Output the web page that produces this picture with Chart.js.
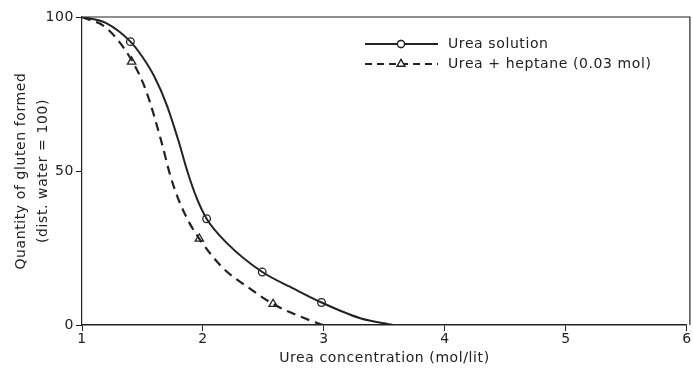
<!DOCTYPE html>
<html>
<head>
<meta charset="utf-8">
<script src="https://cdn.jsdelivr.net/npm/chart.js@4/dist/chart.umd.min.js"></script>
<style>
  html, body { margin: 0; padding: 0; background: #fff; }
  #wrap { position: relative; width: 693px; height: 371px; }
</style>
</head>
<body>
<div id="wrap"><canvas id="glutenChart" width="693" height="371"></canvas></div>
<script>
// curves (x = urea mol/lit, y = gluten, dist. water = 100)
const solutionCurveX = [1, 1.2, 1.4, 1.5, 1.6, 1.7, 1.8, 1.87, 1.95, 2.03, 2.2, 2.49, 2.75, 2.98, 3.3, 3.57];
const solutionCurveY = [100, 98, 92, 87, 80.5, 71.5, 59.5, 50, 41, 34.5, 26.5, 17.2, 11.8, 7.3, 2.2, 0];
const heptaneCurveX = [1, 1.2, 1.41, 1.53, 1.66, 1.73, 1.8, 1.89, 1.97, 2.16, 2.4, 2.58, 2.8, 2.99];
const heptaneCurveY = [100, 96.5, 86, 76, 59, 48.5, 40.5, 33, 28, 18.7, 11.5, 6.8, 2.8, 0];

// measured points (markers)
const solutionX = [1.4, 2.03, 2.49, 2.98];
const solutionY = [92, 34.5, 17.2, 7.3];
const heptaneX = [1.41, 1.97, 2.58];
const heptaneY = [85.5, 28, 6.8];

const seriesNames = ['Urea solution', 'Urea + heptane (0.03 mol)'];
const xTitle = 'Urea concentration (mol/lit)';
const yTitle = ['Quantity of gluten formed', '(dist. water = 100)'];

const ink = '#222';
const fontFamily = '"DejaVu Sans", "Liberation Sans", sans-serif';
const spacing = '0.6px';

const zip = (xs, ys) => xs.map((x, i) => ({ x: x, y: ys[i] }));

// wider lettering like the original drawing
const spacingPlugin = {
    id: 'spacing',
    beforeLayout(chart) { chart.ctx.letterSpacing = spacing; },
    beforeDraw(chart) { chart.ctx.letterSpacing = spacing; }
};

// box + hand-drawn style legend
const framePlugin = {
    id: 'frame',
    afterDraw(chart) {
        const { ctx, chartArea } = chart;
        ctx.save();
        ctx.strokeStyle = ink;
        ctx.lineWidth = 1.2;
        ctx.beginPath();
        ctx.moveTo(chartArea.left, chartArea.top);
        ctx.lineTo(chartArea.right + 3, chartArea.top);
        ctx.lineTo(chartArea.right + 3, chartArea.bottom);
        ctx.stroke();

        // legend
        const rows = [
            { y: 44, dash: [], style: 'circle' },
            { y: 64, dash: [7, 5], style: 'triangle' }
        ];
        ctx.font = '14px ' + fontFamily;
        ctx.letterSpacing = spacing;
        ctx.textBaseline = 'middle';
        rows.forEach((r, i) => {
            ctx.setLineDash(r.dash);
            ctx.lineWidth = 2;
            ctx.beginPath();
            ctx.moveTo(365, r.y);
            ctx.lineTo(438, r.y);
            ctx.stroke();
            ctx.setLineDash([]);
            ctx.lineWidth = 1.3;
            ctx.fillStyle = '#fff';
            Chart.helpers.drawPoint(ctx, { pointStyle: r.style, radius: r.style === 'circle' ? 3.5 : 4.5, borderWidth: 1.3 }, 401, r.y);
            ctx.fill();
            ctx.stroke();
            ctx.fillStyle = ink;
            ctx.fillText(seriesNames[i], 448, r.y);
        });
        ctx.restore();
    }
};

const tickFont = { family: fontFamily, size: 14 };

const ctx = document.getElementById('glutenChart').getContext('2d');
new Chart(ctx, {
    type: 'scatter',
    data: {
        datasets: [
            {
                label: seriesNames[0],
                data: zip(solutionCurveX, solutionCurveY),
                showLine: true,
                borderColor: ink,
                borderWidth: 2,
                pointRadius: 0,
                cubicInterpolationMode: 'monotone'
            },
            {
                label: seriesNames[1],
                data: zip(heptaneCurveX, heptaneCurveY),
                showLine: true,
                borderColor: ink,
                borderWidth: 2.2,
                borderDash: [9, 6],
                pointRadius: 0,
                cubicInterpolationMode: 'monotone'
            },
            {
                label: seriesNames[0] + ' points',
                data: zip(solutionX, solutionY),
                showLine: false,
                pointStyle: 'circle',
                pointRadius: 3.8,
                pointBorderWidth: 1.3,
                pointBorderColor: ink,
                pointBackgroundColor: '#fff'
            },
            {
                label: seriesNames[1] + ' points',
                data: zip(heptaneX, heptaneY),
                showLine: false,
                pointStyle: 'triangle',
                pointRadius: 4.8,
                pointBorderWidth: 1.3,
                pointBorderColor: ink,
                pointBackgroundColor: '#fff'
            }
        ]
    },
    options: {
        responsive: false,
        animation: false,
        layout: { padding: { top: 17, right: 6, left: 0, bottom: 0 } },
        scales: {
            x: {
                type: 'linear',
                min: 1,
                max: 6,
                ticks: { stepSize: 1, color: ink, font: tickFont, padding: 0 },
                grid: { drawOnChartArea: false, drawTicks: true, tickLength: 6, color: ink },
                border: { color: ink, width: 1.5 },
                title: { display: true, text: xTitle, color: ink, font: tickFont, padding: { top: 2, bottom: 4 } },
                afterFit(scale) { scale.height = 46; }
            },
            y: {
                min: 0,
                max: 100,
                ticks: { stepSize: 50, color: ink, font: tickFont, padding: 2 },
                grid: { drawOnChartArea: false, drawTicks: true, tickLength: 6, color: ink },
                border: { color: ink, width: 1.2 },
                title: { display: true, text: yTitle, color: ink, font: { family: fontFamily, size: 14, lineHeight: 1.6 }, padding: { top: 10, bottom: 4 } },
                afterFit(scale) { scale.width = 82; }
            }
        },
        plugins: {
            legend: { display: false },
            tooltip: { enabled: false }
        }
    },
    plugins: [spacingPlugin, framePlugin]
});
</script>
</body>
</html>
